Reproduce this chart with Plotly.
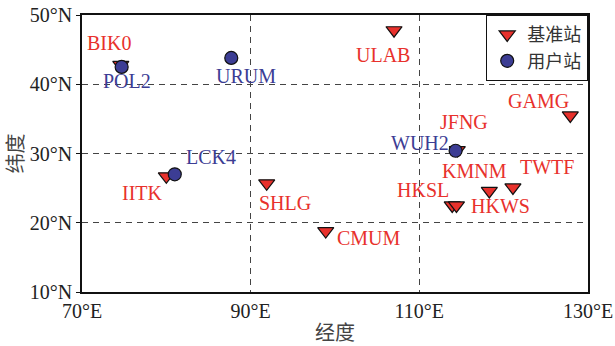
import plotly.graph_objects as go

# Reference stations (基准站)
ref_names = ["BIK0", "ULAB", "GAMG", "JFNG", "KMNM", "TWTF", "HKSL", "HKWS", "CMUM", "SHLG", "IITK"]
ref_lon = [74.6, 107.0, 127.9, 114.5, 118.3, 121.1, 113.9, 114.4, 98.9, 91.9, 80.0]
ref_lat = [42.8, 47.8, 35.5, 30.5, 24.6, 25.1, 22.5, 22.5, 18.8, 25.7, 26.7]

# User stations (用户站)
usr_names = ["POL2", "URUM", "LCK4", "WUH2"]
usr_lon = [74.7, 87.7, 81.0, 114.3]
usr_lat = [42.5, 43.8, 27.0, 30.4]

# Axis ticks
x_ticks = [70, 90, 110, 130]
x_labels = ["70°E", "90°E", "110°E", "130°E"]
y_ticks = [10, 20, 30, 40, 50]
y_labels = ["10°N", "20°N", "30°N", "40°N", "50°N"]

# Label offsets from each marker, in pixels (dx, dy; dy positive is up)
ref_offsets = [(-12, 22), (-11, -25), (-32, 14), (7, 28), (-15, 20), (34, 20),
               (-29, 15), (44, -1), (43, -7), (18, -20), (-24, -17)]
usr_offsets = [(5, -14), (15, -18), (36, 17), (-36, 8)]

RED = "#e8312c"
BLUE = "#3c3d94"
SERIF = "Liberation Serif, Times New Roman, serif"
CJK = "Noto Sans CJK SC"

fig = go.Figure()
fig.add_trace(go.Scatter(
    x=ref_lon, y=ref_lat, mode="markers", name="基准站",
    marker=dict(symbol="triangle-down", size=14, color=RED,
                line=dict(color="#111", width=1.2)),
    hoverinfo="text", text=ref_names,
))
fig.add_trace(go.Scatter(
    x=usr_lon, y=usr_lat, mode="markers", name="用户站",
    marker=dict(symbol="circle", size=13, color=BLUE,
                line=dict(color="#111", width=1.2)),
    hoverinfo="text", text=usr_names,
))

annotations = []
for names, lons, lats, offs, col in [
    (ref_names, ref_lon, ref_lat, ref_offsets, RED),
    (usr_names, usr_lon, usr_lat, usr_offsets, BLUE),
]:
    for n, lo, la, (dx, dy) in zip(names, lons, lats, offs):
        annotations.append(dict(
            x=lo, y=la, xref="x", yref="y", text=n, showarrow=False,
            xshift=dx, yshift=dy, xanchor="center", yanchor="middle",
            font=dict(family=SERIF, size=20, color=col),
        ))

axis_common = dict(
    showline=True, mirror=True, linecolor="#111", linewidth=1.5,
    showgrid=True, gridcolor="#444", gridwidth=1, griddash="6px,5px",
    zeroline=False, tickcolor="#111",
    tickfont=dict(family=SERIF, size=20, color="#222"),
    automargin=False,
)

fig.update_layout(
    width=615, height=346,
    margin=dict(l=82, r=27, t=15, b=54),
    paper_bgcolor="white", plot_bgcolor="white",
    showlegend=True,
    legend=dict(
        x=1, y=1, xanchor="right", yanchor="top",
        bgcolor="white", bordercolor="#111", borderwidth=1.2,
        font=dict(family=CJK, size=18, color="#333"),
        itemwidth=30, tracegroupgap=0,
    ),
    xaxis=dict(
        range=[70, 130], tickvals=x_ticks, ticktext=x_labels,
        ticks="", ticklen=0,
        title=dict(text="经度", font=dict(family=CJK, size=20, color="#444"),
                   standoff=8),
        **axis_common,
    ),
    yaxis=dict(
        range=[10, 50], tickvals=y_ticks, ticktext=y_labels,
        ticks="outside", ticklen=4,
        title=dict(text="纬度", font=dict(family=CJK, size=20, color="#444")),
        **axis_common,
    ),
    annotations=annotations,
)

fig.write_html("out.html")
